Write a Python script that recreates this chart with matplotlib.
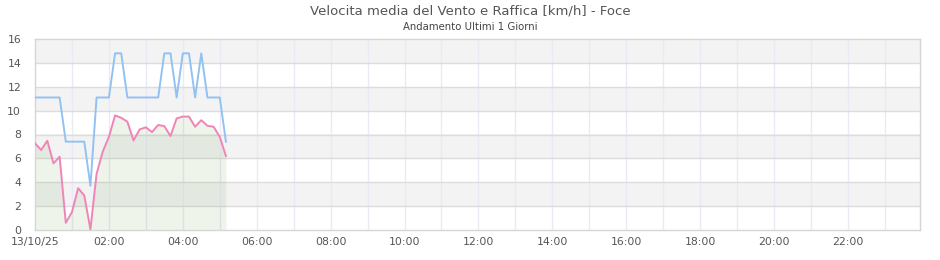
import matplotlib
matplotlib.use("Agg")
import matplotlib.pyplot as plt
import numpy as np

# Data: 10-minute samples starting 13/10/25 00:00
step_minutes = 10
media = [7.26, 6.7, 7.48, 5.58, 6.14, 0.6, 1.5, 3.5, 2.9, 0.05, 4.7, 6.56, 7.8, 9.6,
         9.4, 9.07, 7.5, 8.43, 8.6, 8.2, 8.8, 8.7, 7.87, 9.35, 9.5, 9.5, 8.65, 9.2,
         8.73, 8.65, 7.8, 6.2]
raffica = [11.1, 11.1, 11.1, 11.1, 11.1, 7.4, 7.4, 7.4, 7.4, 3.7, 11.1, 11.1, 11.1,
           14.8, 14.8, 11.1, 11.1, 11.1, 11.1, 11.1, 11.1, 14.8, 14.8, 11.1, 14.8,
           14.8, 11.1, 14.8, 11.1, 11.1, 11.1, 7.4]
tick_hours = list(range(0, 24, 2))
tick_labels = ["13/10/25"] + [f"{h:02d}:00" for h in range(2, 24, 2)]
y_ticks = list(range(0, 17, 2))

title = "Velocita media del Vento e Raffica [km/h] - Foce"
subtitle = "Andamento Ultimi 1 Giorni"

W, H = 940, 260
fig = plt.figure(figsize=(W / 100, H / 100), dpi=100)
ax = fig.add_axes([35 / W, 1 - 230 / H, (920 - 35) / W, (230 - 39) / H])

x = np.arange(len(media)) * step_minutes / 60.0

# alternating bands
for i, y0 in enumerate(range(0, 16, 2)):
    if i % 2 == 1:
        ax.axhspan(y0, y0 + 2, color="#f3f3f3", zorder=0, lw=0)

ax.set_xlim(0, 23.95)
ax.set_ylim(0, 16)

for h in range(1, 24):
    ax.axvline(h, color="#ebe9f8", lw=1, zorder=1)
for yv in y_ticks[1:-1]:
    ax.axhline(yv, color="#dcdcdc", lw=1, zorder=1)

ax.fill_between(x, 0, media, color="#5a9a3a", alpha=0.1, lw=0, zorder=2)
ax.plot(x, raffica, color="#92c2f2", lw=1.4, zorder=3)
ax.plot(x, media, color="#ef85b7", lw=1.4, zorder=4)

ax.set_xticks(tick_hours)
ax.set_xticklabels(tick_labels)
ax.set_yticks(y_ticks)
ax.tick_params(axis="both", length=0, labelsize=7.8, colors="#555555")
ax.tick_params(axis="y", pad=10)
ax.tick_params(axis="x", pad=5)
for s in ax.spines.values():
    s.set_color("#d6d6d6")
    s.set_linewidth(1)

fig.text(0.5, 1 - 11 / H, title, ha="center", va="center", fontsize=9.5, color="#555555")
fig.text(0.5, 1 - 26.5 / H, subtitle, ha="center", va="center", fontsize=7.3, color="#444444")

fig.savefig("out.png", dpi=100)
